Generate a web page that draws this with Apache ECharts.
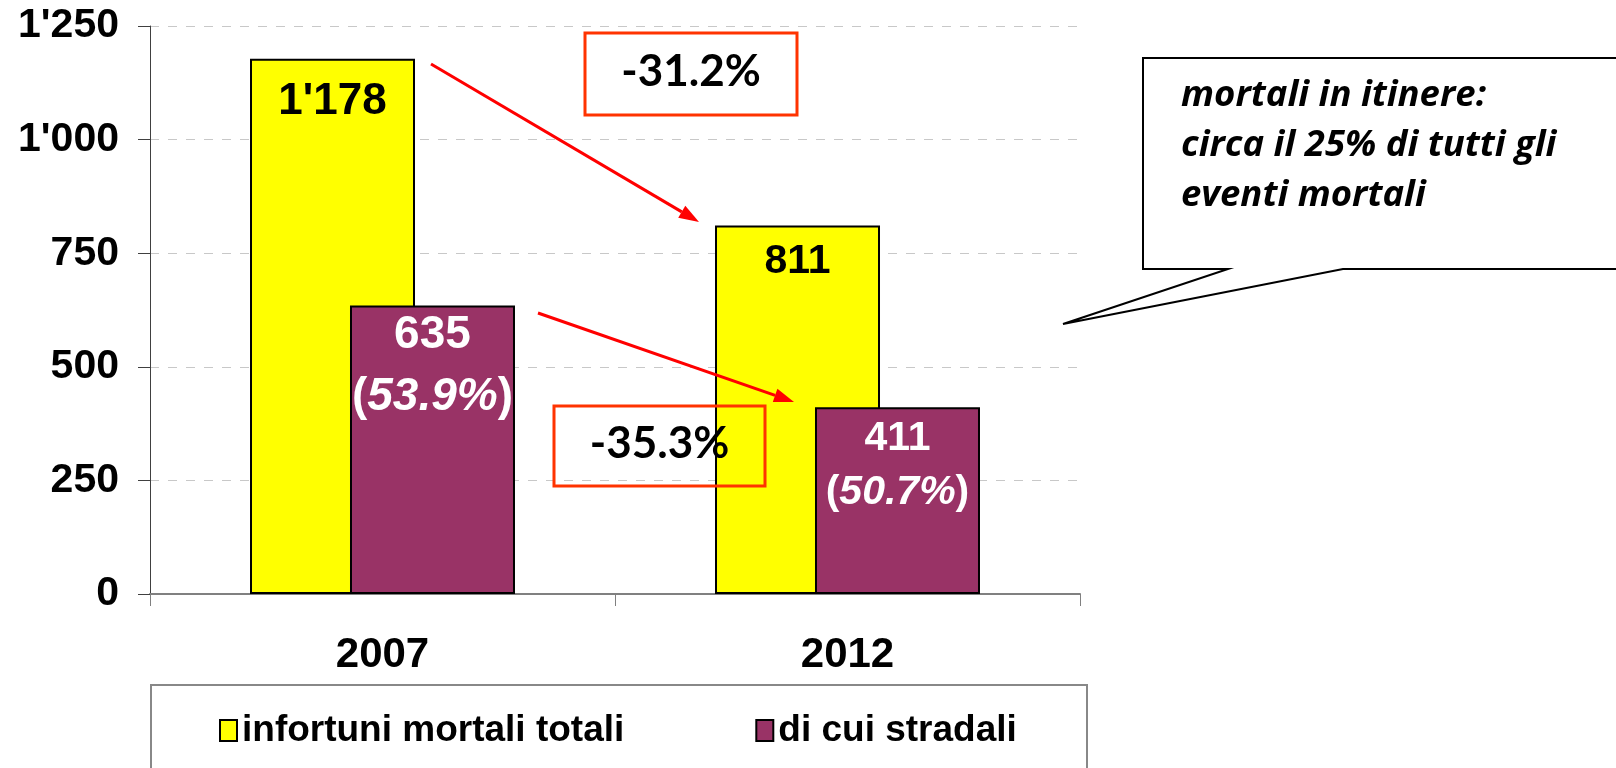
<!DOCTYPE html>
<html>
<head>
<meta charset="utf-8">
<script src="https://cdn.jsdelivr.net/npm/echarts@6/dist/echarts.min.js"></script>
<style>
  html, body { margin: 0; padding: 0; background: #fff; }
  #chart { width: 1616px; height: 768px; }
</style>
</head>
<body>
<div id="chart"></div>
<script>
  // dati
  var years = ['2007', '2012'];
  var totali = [1178, 811];
  var stradali = [635, 411];
  var quotaStradali = ['53.9%', '50.7%'];
  var variazioni = ['-31.2%', '-35.3%'];
  var nomi = ['infortuni mortali totali', 'di cui stradali'];
  var calloutText = ['mortali in itinere:', 'circa il 25% di tutti gli', 'eventi mortali'];

  var AR = 'Liberation Sans, Arial, sans-serif';
  var CAL = 'Lato, Open Sans, sans-serif';

  // 1'250 style
  function fmt(v) {
    return String(v).replace(/\B(?=(\d{3})+(?!\d))/g, "'");
  }

  // freccia rossa: linea + punta
  function arrow(x1, y1, x2, y2) {
    var dx = x2 - x1, dy = y2 - y1;
    var len = Math.sqrt(dx * dx + dy * dy);
    var ux = dx / len, uy = dy / len;
    var nx = -uy, ny = ux;
    var bx = x2 - 20 * ux, by = y2 - 20 * uy;
    return [
      { type: 'line', shape: { x1: x1, y1: y1, x2: bx, y2: by },
        style: { stroke: '#ff0000', lineWidth: 3 }, z: 10 },
      { type: 'polygon', shape: { points: [[x2, y2], [bx + 7 * nx, by + 7 * ny], [bx - 7 * nx, by - 7 * ny]] },
        style: { fill: '#ff0000' }, z: 10 }
    ];
  }

  function pctBox(x, y, w, h, txt) {
    return [
      { type: 'rect', shape: { x: x, y: y, width: w, height: h },
        style: { fill: 'none', stroke: '#ff3300', lineWidth: 3 }, z: 10 },
      { type: 'text', x: x + w / 2, y: y + h / 2 - 2,
        style: { text: txt, font: 'bold 44px ' + CAL, fill: '#000', align: 'center', verticalAlign: 'middle' }, z: 11 }
    ];
  }

  // le etichette del 2007 sono un po' piu grandi
  var yellowLabel = [{ fontSize: 44, distance: 21 }, { fontSize: 41, distance: 16 }];
  var maroonLabel = [{ size: 46, lh: 62, distance: -1 }, { size: 41, lh: 54, distance: 4 }];

  var chart = echarts.init(document.getElementById('chart'));

  var graphics = []
    .concat(arrow(431, 64, 699, 222))
    .concat(arrow(538, 313, 794, 402))
    .concat(pctBox(585, 33, 212, 82, variazioni[0]))
    .concat(pctBox(554, 406, 211, 80, variazioni[1]))
    .concat([
      {
        type: 'polygon',
        shape: { points: [[1143, 58], [1630, 58], [1630, 269], [1343, 269], [1063, 324], [1228, 269], [1143, 269]] },
        style: { fill: '#fff', stroke: '#000', lineWidth: 2 }, z: 5
      },
      {
        type: 'text', x: 1181, y: 71,
        style: { text: calloutText.join('\n'), font: 'italic bold 36.5px Open Sans, sans-serif', fill: '#000', lineHeight: 50 },
        z: 6
      },
      {
        type: 'rect', shape: { x: 151, y: 685, width: 936, height: 120 },
        style: { fill: 'none', stroke: '#888', lineWidth: 2 }, z: 1
      }
    ]);

  var option = {
    animation: false,
    backgroundColor: '#fff',
    grid: { left: 150, right: 536, top: 26, bottom: 174 },
    legend: {
      data: nomi,
      left: 219,
      top: 712,
      padding: 0,
      itemWidth: 17,
      itemHeight: 21,
      itemGap: 131,
      icon: 'rect',
      textStyle: { fontSize: 37, fontWeight: 'bold', color: '#000', fontFamily: AR }
    },
    xAxis: {
      type: 'category',
      data: years,
      axisLine: { lineStyle: { color: '#808080', width: 2 } },
      axisTick: { show: true, length: 12, lineStyle: { color: '#808080', width: 1 } },
      axisLabel: { margin: 40, fontSize: 42, fontWeight: 'bold', color: '#000', fontFamily: AR }
    },
    yAxis: {
      type: 'value',
      min: 0,
      max: 1250,
      interval: 250,
      axisLine: { show: true, lineStyle: { color: '#404040', width: 1 } },
      axisTick: { show: true, length: 12, lineStyle: { color: '#404040' } },
      axisLabel: {
        margin: 31, fontSize: 41, fontWeight: 'bold', color: '#000', fontFamily: AR,
        formatter: fmt
      },
      splitLine: { lineStyle: { color: '#c8c8c8', type: [9, 9], width: 1 } }
    },
    series: [
      {
        name: nomi[0],
        type: 'bar',
        data: totali.map(function (v, i) {
          return { value: v, label: yellowLabel[i] };
        }),
        barWidth: 165,
        barGap: '-39.4%',
        itemStyle: { color: '#ffff00', borderColor: '#000', borderWidth: 2 },
        label: {
          show: true, position: 'insideTop',
          fontWeight: 'bold', color: '#000', fontFamily: AR,
          formatter: function (p) { return fmt(p.value); }
        }
      },
      {
        name: nomi[1],
        type: 'bar',
        data: stradali.map(function (v, i) {
          var s = maroonLabel[i];
          return {
            value: v,
            label: {
              distance: s.distance, fontSize: s.size, lineHeight: s.lh,
              rich: {
                p: { fontSize: s.size, fontWeight: 'bold', color: '#fff', fontFamily: AR, lineHeight: s.lh },
                i: { fontSize: s.size, fontWeight: 'bold', fontStyle: 'italic', color: '#fff', fontFamily: AR, lineHeight: s.lh }
              }
            }
          };
        }),
        barWidth: 165,
        barGap: '-39.4%',
        itemStyle: { color: '#993366', borderColor: '#000', borderWidth: 2 },
        label: {
          show: true, position: 'insideTop',
          fontWeight: 'bold', color: '#fff', fontFamily: AR,
          formatter: function (p) {
            return fmt(p.value) + '\n{p|(}{i|' + quotaStradali[p.dataIndex] + '}{p|)}';
          }
        }
      }
    ],
    graphic: graphics
  };

  chart.setOption(option);
</script>
</body>
</html>
